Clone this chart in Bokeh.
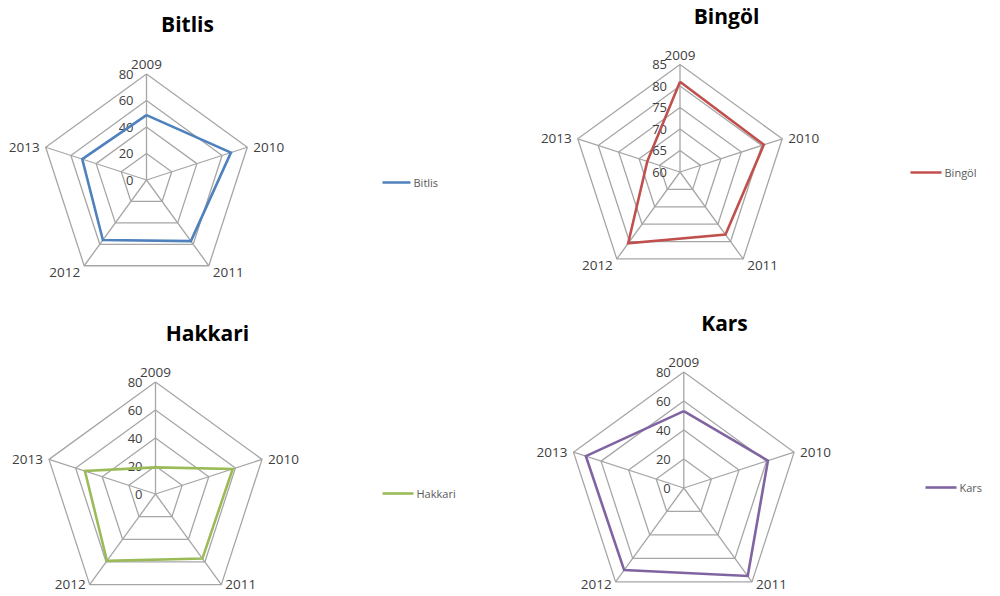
import math
from bokeh.plotting import figure
from bokeh.models import Range1d
from bokeh.core.properties import value
from bokeh.embed import file_html
from bokeh.resources import INLINE

# ---------------- data ----------------
years = ["2009", "2010", "2011", "2012", "2013"]

bitlis_values = [49, 67, 57, 56, 51]
bingol_values = [81, 80.5, 78, 80.5, 68]
hakkari_values = [19, 58, 57, 59, 53]
kars_values = [53, 61, 75, 70, 71]

ticks_0_80 = [0, 20, 40, 60, 80]
ticks_60_85 = [60, 65, 70, 75, 80, 85]

titles = ["Bitlis", "Bingöl", "Hakkari", "Kars"]
colors = ["#4F81BD", "#C0504D", "#9BBB59", "#8064A2"]

# ---------------- layout (page pixel coordinates) ----------------
charts = [
    dict(name=titles[0], vals=bitlis_values, ticks=ticks_0_80, color=colors[0],
         cx=146, cy=179.5, R=106, title=(187, 23),
         legend=(382, 410, 182)),
    dict(name=titles[1], vals=bingol_values, ticks=ticks_60_85, color=colors[1],
         cx=679.5, cy=171.5, R=107.5, title=(726, 15),
         legend=(910, 941, 172)),
    dict(name=titles[2], vals=hakkari_values, ticks=ticks_0_80, color=colors[2],
         cx=155, cy=493.5, R=112, title=(207, 332),
         legend=(382, 413, 493)),
    dict(name=titles[3], vals=kars_values, ticks=ticks_0_80, color=colors[3],
         cx=683.3, cy=487.5, R=116, title=(724, 322),
         legend=(925, 956, 487)),
]

FONT = value("Open Sans")
GRID = "#a6a6a6"
TXT = "#404040"

p = figure(width=1000, height=596, x_range=Range1d(0, 1000), y_range=Range1d(596, 0),
           output_backend="svg", toolbar_location=None, min_border=0)
p.axis.visible = False
p.grid.visible = False
p.outline_line_color = None
p.background_fill_color = "white"


def pt(c, i, r):
    th = math.radians(90 - 72 * i)
    return c["cx"] + r * math.cos(th), c["cy"] - r * math.sin(th)


for c in charts:
    n = len(years)
    tmin, tmax = c["ticks"][0], c["ticks"][-1]

    def rad(v):
        return (v - tmin) / (tmax - tmin) * c["R"]

    # rings
    xs, ys = [], []
    for t in c["ticks"][1:]:
        pts = [pt(c, i, rad(t)) for i in range(n)] + [pt(c, 0, rad(t))]
        xs.append([q[0] for q in pts])
        ys.append([q[1] for q in pts])
    # spokes
    for i in range(n):
        x1, y1 = pt(c, i, c["R"])
        xs.append([c["cx"], x1])
        ys.append([c["cy"], y1])
    p.multi_line(xs, ys, line_color=GRID, line_width=1.3)

    # tick labels
    tx = [c["cx"] - 13] * len(c["ticks"])
    ty = [c["cy"] - rad(t) for t in c["ticks"]]
    p.text(tx, ty, text=[str(t) for t in c["ticks"]], text_font=FONT,
           text_font_size="13px", text_color=TXT, text_align="right",
           text_baseline="middle")

    # category labels
    vx = [pt(c, i, c["R"]) for i in range(n)]
    offs = [(0, -5, "center", "bottom"), (6, 0, "left", "middle"),
            (4, 7, "left", "middle"), (-4, 7, "right", "middle"),
            (-6, 0, "right", "middle")]
    for i in range(n):
        dx, dy, al, bl = offs[i]
        ly = min(vx[i][1] + dy, 584)
        p.text([vx[i][0] + dx], [ly], text=[years[i]], text_font=FONT,
               text_font_size="13.5px", text_color=TXT, text_align=al,
               text_baseline=bl)

    # series
    spts = [pt(c, i, rad(v)) for i, v in enumerate(c["vals"])]
    spts.append(spts[0])
    p.line([q[0] for q in spts], [q[1] for q in spts], line_color=c["color"],
           line_width=2.6, line_join="miter")

    # title
    p.text([c["title"][0]], [c["title"][1]], text=[c["name"]], text_font=FONT,
           text_font_style="bold", text_font_size="21px", text_color="#000000",
           text_align="center", text_baseline="middle")

    # legend
    lx0, lx1, ly = c["legend"]
    p.line([lx0, lx1], [ly, ly], line_color=c["color"], line_width=2.6)
    p.text([lx1 + 3], [ly], text=[c["name"]], text_font=FONT,
           text_font_size="11px", text_color="#595959", text_align="left",
           text_baseline="middle")

open("out.html", "w").write(file_html(p, INLINE))
